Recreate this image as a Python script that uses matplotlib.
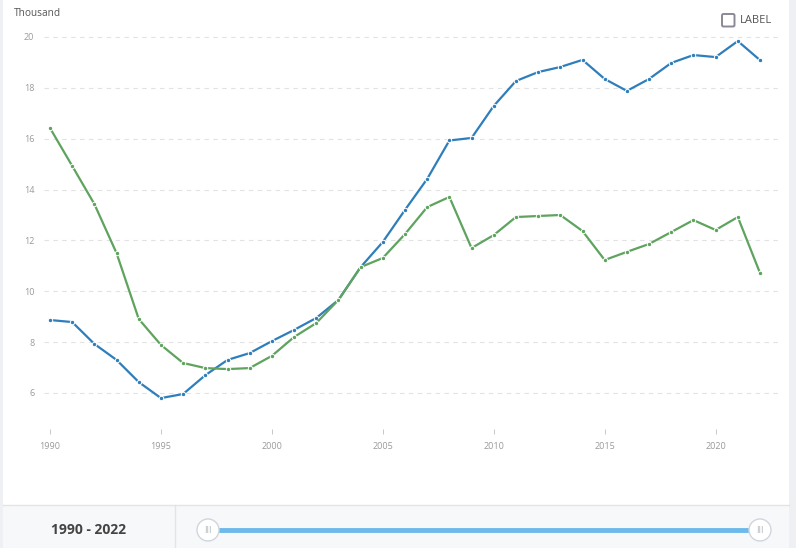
import matplotlib
matplotlib.use('Agg')
import matplotlib.pyplot as plt
from matplotlib.patches import Rectangle, Circle, FancyBboxPatch

plt.rcParams['font.family'] = ['Open Sans', 'DejaVu Sans']

# datos (miles)
anios = list(range(1990, 2023))
serie_azul = [8.87, 8.79, 7.93, 7.30, 6.43, 5.80, 5.96, 6.70, 7.30, 7.57,
              8.04, 8.48, 8.95, 9.66, 10.95, 11.94, 13.20, 14.42, 15.93, 16.03,
              17.29, 18.27, 18.62, 18.82, 19.10, 18.35, 17.88, 18.35, 18.98, 19.29,
              19.21, 19.84, 19.09]
serie_verde = [16.42, 14.93, 13.43, 11.50, 8.91, 7.89, 7.18, 6.98, 6.94, 6.98,
               7.46, 8.20, 8.75, 9.66, 10.95, 11.31, 12.25, 13.31, 13.71, 11.70,
               12.21, 12.92, 12.96, 13.00, 12.37, 11.23, 11.55, 11.86, 12.33, 12.80,
               12.41, 12.92, 10.72]
ticks_x = [1990, 1995, 2000, 2005, 2010, 2015, 2020]
ticks_y = [6, 8, 10, 12, 14, 16, 18, 20]
rango = '1990 - 2022'

W, H = 796, 548
fig = plt.figure(figsize=(W / 100, H / 100), dpi=100)
fig.patch.set_facecolor('white')

# capa de fondo en pixeles
bg = fig.add_axes([0, 0, 1, 1])
bg.set_xlim(0, W)
bg.set_ylim(H, 0)
bg.axis('off')
bg.add_patch(Rectangle((0, 0), 3, H, color='#eef0f4', lw=0))
bg.add_patch(Rectangle((789, 0), 7, H, color='#eef0f4', lw=0))
bg.add_patch(Rectangle((3, 505), 786, 43, facecolor='#f7f8fa', edgecolor='none'))
bg.plot([3, 789], [505, 505], color='#e1e5ea', lw=1)
bg.plot([175, 175], [505, 548], color='#e1e5ea', lw=1)
bg.text(89, 530, rango, ha='center', va='center', fontsize=10, fontweight='bold', color='#444444')
bg.plot([208, 760], [530, 530], color='#6cb9ea', lw=3.5, solid_capstyle='butt', zorder=2)
for cx in (208, 760):
    bg.add_patch(Circle((cx, 530), 11, facecolor='white', edgecolor='#cfd6de', lw=1, zorder=3))
    bg.text(cx, 530.5, 'III', ha='center', va='center', fontsize=6.5, color='#b0b6bd', zorder=4)

# leyenda
bg.add_patch(FancyBboxPatch((722, 14), 12.5, 12.5, boxstyle='round,pad=0,rounding_size=1.5',
                            facecolor='white', edgecolor='#8a8a96', lw=1.4))
bg.text(740, 20.5, 'LABEL', ha='left', va='center', fontsize=8, color='#555555')
bg.text(14, 14, 'Thousand', ha='left', va='center', fontsize=7.3, color='#555555')

# grafico principal
x0, x1 = 44, 779
y_top, y_bot = 30, 429
ax = fig.add_axes([x0 / W, (H - y_bot) / H, (x1 - x0) / W, (y_bot - y_top) / H])
ax.patch.set_alpha(0)
px_x = (760 - 50) / 32.0
px_y = (393 - 37) / 14.0
ax.set_xlim(1990 - (50 - x0) / px_x, 2022 + (x1 - 760) / px_x)
ax.set_ylim(6 - (y_bot - 393) / px_y, 20 + (37 - y_top) / px_y)

ax.plot(anios, serie_azul, color='#2f7ebc', lw=1.6, marker='o', markersize=3.2,
        markerfacecolor='#2f7ebc', markeredgecolor='white', markeredgewidth=0.7, zorder=3)
ax.plot(anios, serie_verde, color='#5ea35e', lw=1.6, marker='o', markersize=3.2,
        markerfacecolor='#5ea35e', markeredgecolor='white', markeredgewidth=0.7, zorder=3)

for s in ax.spines.values():
    s.set_visible(False)
ax.set_xticks(ticks_x)
ax.set_yticks(ticks_y)
ax.set_yticklabels([str(v) for v in ticks_y])
ax.grid(axis='y', color='#e2e2e2', ls=(0, (4, 4)), lw=0.8)
ax.tick_params(axis='x', length=3.5, width=0.7, color='#c8c8c8', labelsize=6.5,
               labelcolor='#9a9a9a', pad=6)
ax.tick_params(axis='y', length=0, labelsize=6.5, labelcolor='#9a9a9a', pad=7)

fig.savefig('out.png', dpi=100)
